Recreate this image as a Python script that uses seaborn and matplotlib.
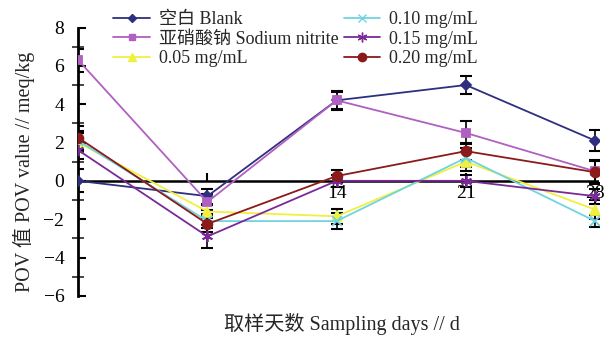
import pandas as pd
import numpy as np
import matplotlib.pyplot as plt
import seaborn as sns

days = [0, 7, 14, 21, 28]
groups = ["空白 Blank", "亚硝酸钠 Sodium nitrite", "0.05 mg/mL",
          "0.10 mg/mL", "0.15 mg/mL", "0.20 mg/mL"]

blank = [0.0, -0.8, 4.2, 5.0, 2.1]
nitrite = [6.3, -1.1, 4.2, 2.5, 0.5]
c005 = [2.0, -1.6, -1.85, 1.0, -1.5]
c010 = [2.1, -2.1, -2.1, 1.2, -2.1]
c015 = [1.6, -2.9, 0.0, 0.0, -0.8]
c020 = [2.25, -2.25, 0.25, 1.55, 0.45]

blank_sd = [0.6, 0.4, 0.5, 0.45, 0.55]
nitrite_sd = [0.6, 0.4, 0.45, 0.6, 0.6]
c005_sd = [0.5, 0.35, 0.4, 0.5, 0.5]
c010_sd = [0.5, 0.35, 0.4, 0.5, 0.3]
c015_sd = [0.45, 0.6, 0.3, 0.3, 0.4]
c020_sd = [0.6, 0.4, 0.3, 0.45, 0.6]

values = [blank, nitrite, c005, c010, c015, c020]
sds = [blank_sd, nitrite_sd, c005_sd, c010_sd, c015_sd, c020_sd]

colors = ["#2f2f7f", "#b060c0", "#f0f040", "#70d4e0", "#7a2a98", "#8b1a1a"]
markers = ["D", "s", "^", "x", (6, 2, 0), "o"]
msizes = [5, 6, 7, 7, 8, 7]

rows = []
for g, v in zip(groups, values):
    for d, y in zip(days, v):
        rows.append({"day": d, "pov": y, "group": g})
df = pd.DataFrame(rows)

sns.set_style("white")
plt.rcParams["font.family"] = ["Liberation Serif", "Noto Sans CJK SC"]

fig = plt.figure(figsize=(6.11, 3.44), dpi=100)
ax = fig.add_axes([0.128, 0.14, 0.852, 0.78])

sns.lineplot(data=df, x="day", y="pov", hue="group", hue_order=groups,
             palette=colors, ax=ax, legend=False, linewidth=1.3, zorder=3)
data_lines = list(ax.get_lines())
for line, m, ms, c in zip(data_lines, markers, msizes, colors):
    line.set_marker(m)
    line.set_markersize(ms)
    line.set_markerfacecolor(c)
    line.set_markeredgecolor(c)
    line.set_markeredgewidth(1.3)

# black error bars with caps
for v, s in zip(values, sds):
    ax.errorbar(days, v, yerr=s, fmt="none", ecolor="black",
                elinewidth=1.2, capsize=4, capthick=1.5, zorder=2)

ax.axhline(0, color="black", lw=1.8, zorder=2.5)

ax.set_xlim(0, 28.2)
ax.set_ylim(-6, 8)
ax.set_yticks([-6, -4, -2, 0, 2, 4, 6, 8])
ax.set_yticks(np.arange(-5, 8, 2), minor=True)
ax.set_yticklabels(["\u22126", "\u22124", "\u22122", "0", "2", "4", "6", "8"])
ax.set_xticks([7, 14, 21, 28])
ax.set_xticklabels(["", "14", "21", "28"])

for s in ["top", "right"]:
    ax.spines[s].set_visible(False)
ax.spines["left"].set_linewidth(2)
ax.spines["left"].set_color("black")
ax.spines["left"].set_bounds(-6, 8)
ax.spines["bottom"].set_position(("data", 0))
ax.spines["bottom"].set_visible(False)

ax.tick_params(axis="y", direction="in", length=6, width=1.5, labelsize=14,
               colors="black", pad=10, left=True)
ax.tick_params(axis="y", which="minor", direction="inout", length=8, width=1.2,
               left=True)
ax.tick_params(axis="x", direction="in", length=6, width=1.5, labelsize=14,
               colors="black", bottom=True, pad=3)

ax.set_xlabel("")
ax.set_ylabel("")
fig.text(0.56, 0.025, "取样天数 Sampling days // d", ha="center", va="bottom",
         fontsize=14.5)
fig.text(0.04, 0.5, "POV 值 POV value // meq/kg", ha="center", va="center",
         rotation=90, fontsize=14.5)

handles = []
for g, c, m, ms in zip(groups, colors, markers, msizes):
    h, = ax.plot([], [], color=c, marker=m, markersize=ms - 1,
                 markerfacecolor=c, markeredgecolor=c, lw=1.3, label=g)
    handles.append(h)
fig.legend(handles=handles, loc="upper left", bbox_to_anchor=(0.168, 1.0),
           ncol=2, frameon=False, fontsize=13, handlelength=2.0,
           labelspacing=0.15, columnspacing=0.3, handletextpad=0.5,
           borderpad=0.1)

fig.savefig("out.png", dpi=100, facecolor="white")
